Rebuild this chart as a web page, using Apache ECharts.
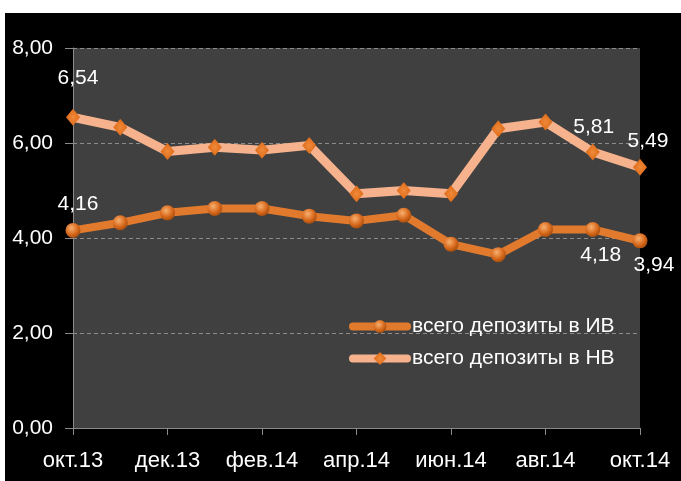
<!DOCTYPE html>
<html>
<head>
<meta charset="utf-8">
<script src="https://cdn.jsdelivr.net/npm/echarts@6/dist/echarts.min.js"></script>
<style>
  html, body { margin: 0; padding: 0; background: #fff; }
  #bg { position: absolute; left: 5px; top: 13px; right: 0; bottom: 0; background: #000; }
  #chart { position: absolute; left: 0; top: 0; width: 681px; height: 481px; }
</style>
</head>
<body>
<div id="bg"></div>
<div id="chart"></div>
<script>
const categories = ['окт.13', 'ноя.13', 'дек.13', 'янв.14', 'фев.14', 'мар.14', 'апр.14',
  'май.14', 'июн.14', 'июл.14', 'авг.14', 'сен.14', 'окт.14']
const depositsIV = [4.16, 4.32, 4.53, 4.62, 4.62, 4.46, 4.36, 4.48, 3.87, 3.65, 4.18, 4.18, 3.94]
const depositsNV = [6.54, 6.33, 5.82, 5.91, 5.85, 5.95, 4.93, 5.00, 4.93, 6.30, 6.44, 5.81, 5.49]
const yTicks = [0, 2, 4, 6, 8]

const font = "'Liberation Sans Narrow', 'Liberation Sans', sans-serif"
const fmt = v => v.toFixed(2).replace('.', ',')

// which points carry a data label, and where (offset from the point)
const labelsIV = { 0: [5, -26], 11: [8, 26], 12: [14, 24] }
const labelsNV = { 0: [5, -39], 11: [1, -25], 12: [8, -26] }

function withLabels(values, marks) {
  return values.map((v, i) => {
    if (!marks[i]) return v
    return {
      value: v,
      label: {
        show: true,
        position: 'inside',
        offset: marks[i],
        formatter: p => fmt(p.value),
        color: '#fff',
        fontFamily: font,
        fontSize: 21
      }
    }
  })
}

const chart = echarts.init(document.getElementById('chart'), null, { renderer: 'canvas' })

chart.setOption({
  backgroundColor: 'transparent',
  animation: false,
  grid: {
    left: 73, right: 41, top: 48, bottom: 53,
    show: true,
    backgroundColor: '#404040',
    borderWidth: 0
  },
  legend: {
    orient: 'vertical',
    left: 349,
    top: 316,
    padding: 0,
    itemGap: 11,
    itemWidth: 54,
    itemHeight: 16,
    textStyle: { color: '#fff', fontFamily: font, fontSize: 21 },
    data: [
      { name: 'всего депозиты в ИВ', lineStyle: { width: 8, cap: 'round' } },
      { name: 'всего депозиты в НВ', lineStyle: { width: 8, cap: 'round' } }
    ]
  },
  xAxis: {
    type: 'category',
    data: categories,
    boundaryGap: false,
    axisLine: { lineStyle: { color: '#8a8a8a', width: 1 } },
    axisTick: { show: true, interval: 1, length: 7, lineStyle: { color: '#8a8a8a' } },
    axisLabel: {
      interval: 1,
      color: '#fff',
      fontFamily: font,
      fontSize: 22,
      margin: 22
    },
    splitLine: { show: false }
  },
  yAxis: {
    type: 'value',
    min: yTicks[0],
    max: yTicks[yTicks.length - 1],
    interval: 2,
    axisLine: { show: true, lineStyle: { color: '#8a8a8a', width: 1 } },
    axisTick: { show: true, length: 8, lineStyle: { color: '#8a8a8a' } },
    axisLabel: {
      color: '#fff',
      fontFamily: font,
      fontSize: 21,
      margin: 20,
      formatter: v => fmt(v)
    },
    splitLine: { lineStyle: { color: '#8c8c8c', type: [4, 3], width: 1 } }
  },
  series: [
    {
      name: 'всего депозиты в ИВ',
      type: 'line',
      data: withLabels(depositsIV, labelsIV),
      symbol: 'circle',
      symbolSize: 15,
      lineStyle: { color: '#E27A2E', width: 8 },
      itemStyle: {
        color: new echarts.graphic.RadialGradient(0.4, 0.35, 0.7, [
          { offset: 0, color: '#F7B070' },
          { offset: 0.6, color: '#D8691C' },
          { offset: 1, color: '#9E4A0C' }
        ]),
        borderWidth: 0
      },
      z: 3
    },
    {
      name: 'всего депозиты в НВ',
      type: 'line',
      data: withLabels(depositsNV, labelsNV),
      symbol: 'diamond',
      symbolSize: [14, 17],
      lineStyle: { color: '#F6B28D', width: 9 },
      itemStyle: {
        color: new echarts.graphic.RadialGradient(0.5, 0.5, 0.6, [
          { offset: 0, color: '#F08A3A' },
          { offset: 0.7, color: '#E0701E' },
          { offset: 1, color: '#C25A14' }
        ]),
        borderWidth: 0
      },
      z: 2
    }
  ]
})
</script>
</body>
</html>
